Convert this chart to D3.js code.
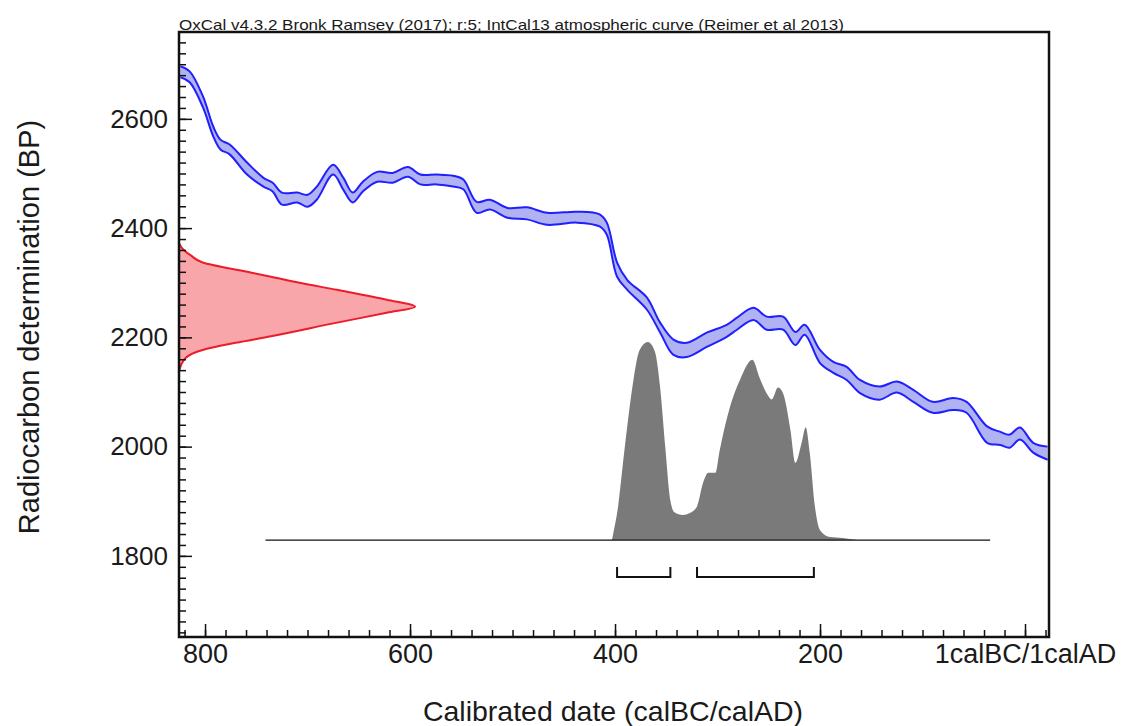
<!DOCTYPE html>
<html>
<head>
<meta charset="utf-8">
<script src="https://cdn.jsdelivr.net/npm/d3@7"></script>
<style>
  body { margin: 0; background: #fff; }
  svg { display: block; }
  text { font-family: "Liberation Sans", Arial, Helvetica, sans-serif; fill: #1a1a1a; }
</style>
</head>
<body>
<svg id="chart" width="1123" height="726"></svg>
<script>
// IntCal13 atmospheric curve (year: negative = BC), mean and 1-sigma in BP
const calYear = [-824, -815, -802, -792, -785, -776, -759, -743, -734, -725, -710, -700, -691, -675, -665, -656, -646, -632, -617, -602, -590, -574, -558, -548, -535, -522, -505, -486, -466, -437, -415, -408, -398, -388, -369, -356, -343, -330, -310, -291, -281, -265, -252, -236, -224, -215, -200, -187, -174, -161, -142, -125, -109, -90, -70, -57, -37, -24, -15, -5, 8, 22];
const calBP = [2686, 2677, 2631, 2577, 2553, 2544, 2509, 2484, 2475, 2454, 2456, 2450, 2464, 2507, 2481, 2456, 2476, 2494, 2492, 2503, 2489, 2489, 2486, 2480, 2438, 2443, 2428, 2427, 2417, 2420, 2414, 2399, 2324, 2296, 2262, 2218, 2182, 2177, 2196, 2212, 2225, 2243, 2226, 2226, 2198, 2214, 2165, 2145, 2134, 2110, 2098, 2109, 2093, 2072, 2078, 2072, 2022, 2015, 2010, 2024, 1998, 1988];
const calSigma = [10, 10, 10, 9, 9, 9, 11, 8, 8, 11, 9, 11, 12, 9, 11, 9, 9, 9, 9, 9, 9, 9, 10, 9, 10, 9, 9, 11, 11, 10, 11, 11, 13, 9, 11, 9, 14, 13, 13, 11, 11, 11, 12, 12, 12, 9, 12, 10, 12, 12, 12, 10, 11, 10, 11, 10, 15, 12, 12, 11, 9, 12];

// Radiocarbon measurement likelihood (BP, relative density)
const dateBP = [2372, 2360, 2350, 2337, 2320, 2311, 2300, 2287, 2269, 2256, 2245, 2227, 2202, 2190, 2177, 2163, 2138];
const dateDensity = [0, 0.02, 0.05, 0.10, 0.29, 0.39, 0.51, 0.67, 0.88, 1.0, 0.88, 0.67, 0.39, 0.24, 0.10, 0.03, 0];

// Calibrated date probability (year: negative = BC, relative density)
const postYear = [-403, -402, -397, -392, -387, -382, -376, -368, -361, -356, -351, -346, -342, -334, -327, -320, -314, -309, -302, -298, -288, -278, -266, -259, -252, -247, -241, -236, -229, -224, -218, -214, -210, -205, -200, -190, -178, -164];
const postDensity = [0, 0.025, 0.17, 0.40, 0.62, 0.81, 0.96, 1.0, 0.95, 0.77, 0.47, 0.20, 0.14, 0.126, 0.136, 0.17, 0.29, 0.34, 0.34, 0.45, 0.67, 0.81, 0.91, 0.82, 0.74, 0.71, 0.77, 0.74, 0.56, 0.39, 0.49, 0.57, 0.44, 0.17, 0.05, 0.015, 0.01, 0];

// Calibration span and 95.4% probability ranges
const calRange = [-741, -34];
const hpdRanges = [[-398, -346], [-320, -206]];

// Axis ticks and texts
const xTickValues = [-800, -600, -400, -200, 0];
const xTickLabels = ["800", "600", "400", "200", "1calBC/1calAD"];
const yTickValues = [1800, 2000, 2200, 2400, 2600];
const titleText = "OxCal v4.3.2 Bronk Ramsey (2017); r:5; IntCal13 atmospheric curve (Reimer et al 2013)";
const xAxisTitle = "Calibrated date (calBC/calAD)";
const yAxisTitle = "Radiocarbon determination (BP)";

const svg = d3.select("#chart");
const box = { left: 179, top: 32, right: 1049, bottom: 637 };

const x = d3.scaleLinear().domain([-825.4, 23.4]).range([box.left, box.right]);
const y = d3.scaleLinear().domain([1651.5, 2759]).range([box.bottom, box.top]);

svg.append("defs").append("clipPath").attr("id", "plotClip")
  .append("rect")
  .attr("x", box.left).attr("y", box.top)
  .attr("width", box.right - box.left).attr("height", box.bottom - box.top);

const plot = svg.append("g").attr("clip-path", "url(#plotClip)");

// --- calibrated date distribution ---
const distBase = y(1829);
const distHeight = 198;
const py = d3.scaleLinear().domain([0, 1]).range([distBase, distBase - distHeight]);
const post = postYear.map((t, i) => ({ t, p: postDensity[i] }));

plot.append("path")
  .datum(post)
  .attr("fill", "#7a7a7a")
  .attr("d", d3.area().curve(d3.curveMonotoneX)
    .x(d => x(d.t)).y0(distBase).y1(d => py(d.p)));

plot.append("line")
  .attr("x1", x(calRange[0])).attr("x2", x(calRange[1]))
  .attr("y1", distBase).attr("y2", distBase)
  .attr("stroke", "#111").attr("stroke-width", 1.2);

// range brackets
const bracketY = distBase + 37;
hpdRanges.forEach(r => {
  plot.append("path")
    .attr("fill", "none").attr("stroke", "#111").attr("stroke-width", 2)
    .attr("d", d3.line()([[x(r[0]), bracketY - 10], [x(r[0]), bracketY], [x(r[1]), bracketY], [x(r[1]), bracketY - 10]]));
});

// --- radiocarbon likelihood on the BP axis ---
const dx = d3.scaleLinear().domain([0, 1]).range([box.left, box.left + 236]);
const rc = dateBP.map((b, i) => ({ b, p: dateDensity[i] }));

plot.append("path")
  .datum(rc)
  .attr("fill", "#f8a6a9")
  .attr("d", d3.area().curve(d3.curveMonotoneY)
    .y(d => y(d.b)).x0(box.left).x1(d => dx(d.p)));
plot.append("path")
  .datum(rc)
  .attr("fill", "none").attr("stroke", "#ec1c2a").attr("stroke-width", 2)
  .attr("d", d3.line().curve(d3.curveMonotoneY)
    .y(d => y(d.b)).x(d => dx(d.p)));

// --- calibration curve band ---
const cal = calYear.map((t, i) => ({ t, m: calBP[i], s: calSigma[i] }));
const bandCurve = d3.curveCatmullRom.alpha(0.5);

plot.append("path")
  .datum(cal)
  .attr("fill", "#b0b2f2")
  .attr("d", d3.area().curve(bandCurve)
    .x(d => x(d.t)).y0(d => y(d.m - d.s)).y1(d => y(d.m + d.s)));
[1, -1].forEach(sign => {
  plot.append("path")
    .datum(cal)
    .attr("fill", "none").attr("stroke", "#1f1fff").attr("stroke-width", 2)
    .attr("d", d3.line().curve(bandCurve)
      .x(d => x(d.t)).y(d => y(d.m + sign * d.s)));
});

// --- axes (ticks inside the frame) ---
const yMinor = svg.append("g").attr("transform", `translate(${box.left},0)`)
  .call(d3.axisLeft(y).tickValues(d3.range(1660, 2760, 20)).tickSize(-7).tickFormat(""));
const yMajor = svg.append("g").attr("transform", `translate(${box.left},0)`)
  .call(d3.axisLeft(y).tickValues(yTickValues).tickSize(-13).tickPadding(11).tickFormat(d3.format("d")));
const xMinor = svg.append("g").attr("transform", `translate(0,${box.bottom})`)
  .call(d3.axisBottom(x).tickValues(d3.range(-820, 21, 20)).tickSize(-7).tickFormat(""));
const xMajor = svg.append("g").attr("transform", `translate(0,${box.bottom})`)
  .call(d3.axisBottom(x).tickValues(xTickValues).tickSize(-13).tickPadding(7)
    .tickFormat((d, i) => xTickLabels[i]));

[yMinor, yMajor, xMinor, xMajor].forEach(g => {
  g.select(".domain").remove();
  g.selectAll(".tick line").attr("stroke", "#111").attr("stroke-width", 1.5);
  g.selectAll(".tick text").attr("font-size", 26).attr("fill", "#1a1a1a")
    .style("font-family", "'Liberation Sans', Arial, sans-serif");
});
xMajor.selectAll(".tick text").attr("font-size", 27);

// frame
svg.append("rect")
  .attr("x", box.left).attr("y", box.top)
  .attr("width", box.right - box.left).attr("height", box.bottom - box.top)
  .attr("fill", "none").attr("stroke", "#111").attr("stroke-width", 2.5);

// titles
svg.append("text")
  .attr("x", box.left).attr("y", box.top - 2)
  .attr("font-size", 15)
  .attr("textLength", 665).attr("lengthAdjust", "spacingAndGlyphs")
  .text(titleText);

svg.append("text")
  .attr("x", (box.left + box.right) / 2 - 1).attr("y", 721)
  .attr("text-anchor", "middle").attr("font-size", 28.5)
  .text(xAxisTitle);

svg.append("text")
  .attr("transform", `translate(39,327) rotate(-90)`)
  .attr("text-anchor", "middle").attr("font-size", 29)
  .text(yAxisTitle);
</script>
</body>
</html>
